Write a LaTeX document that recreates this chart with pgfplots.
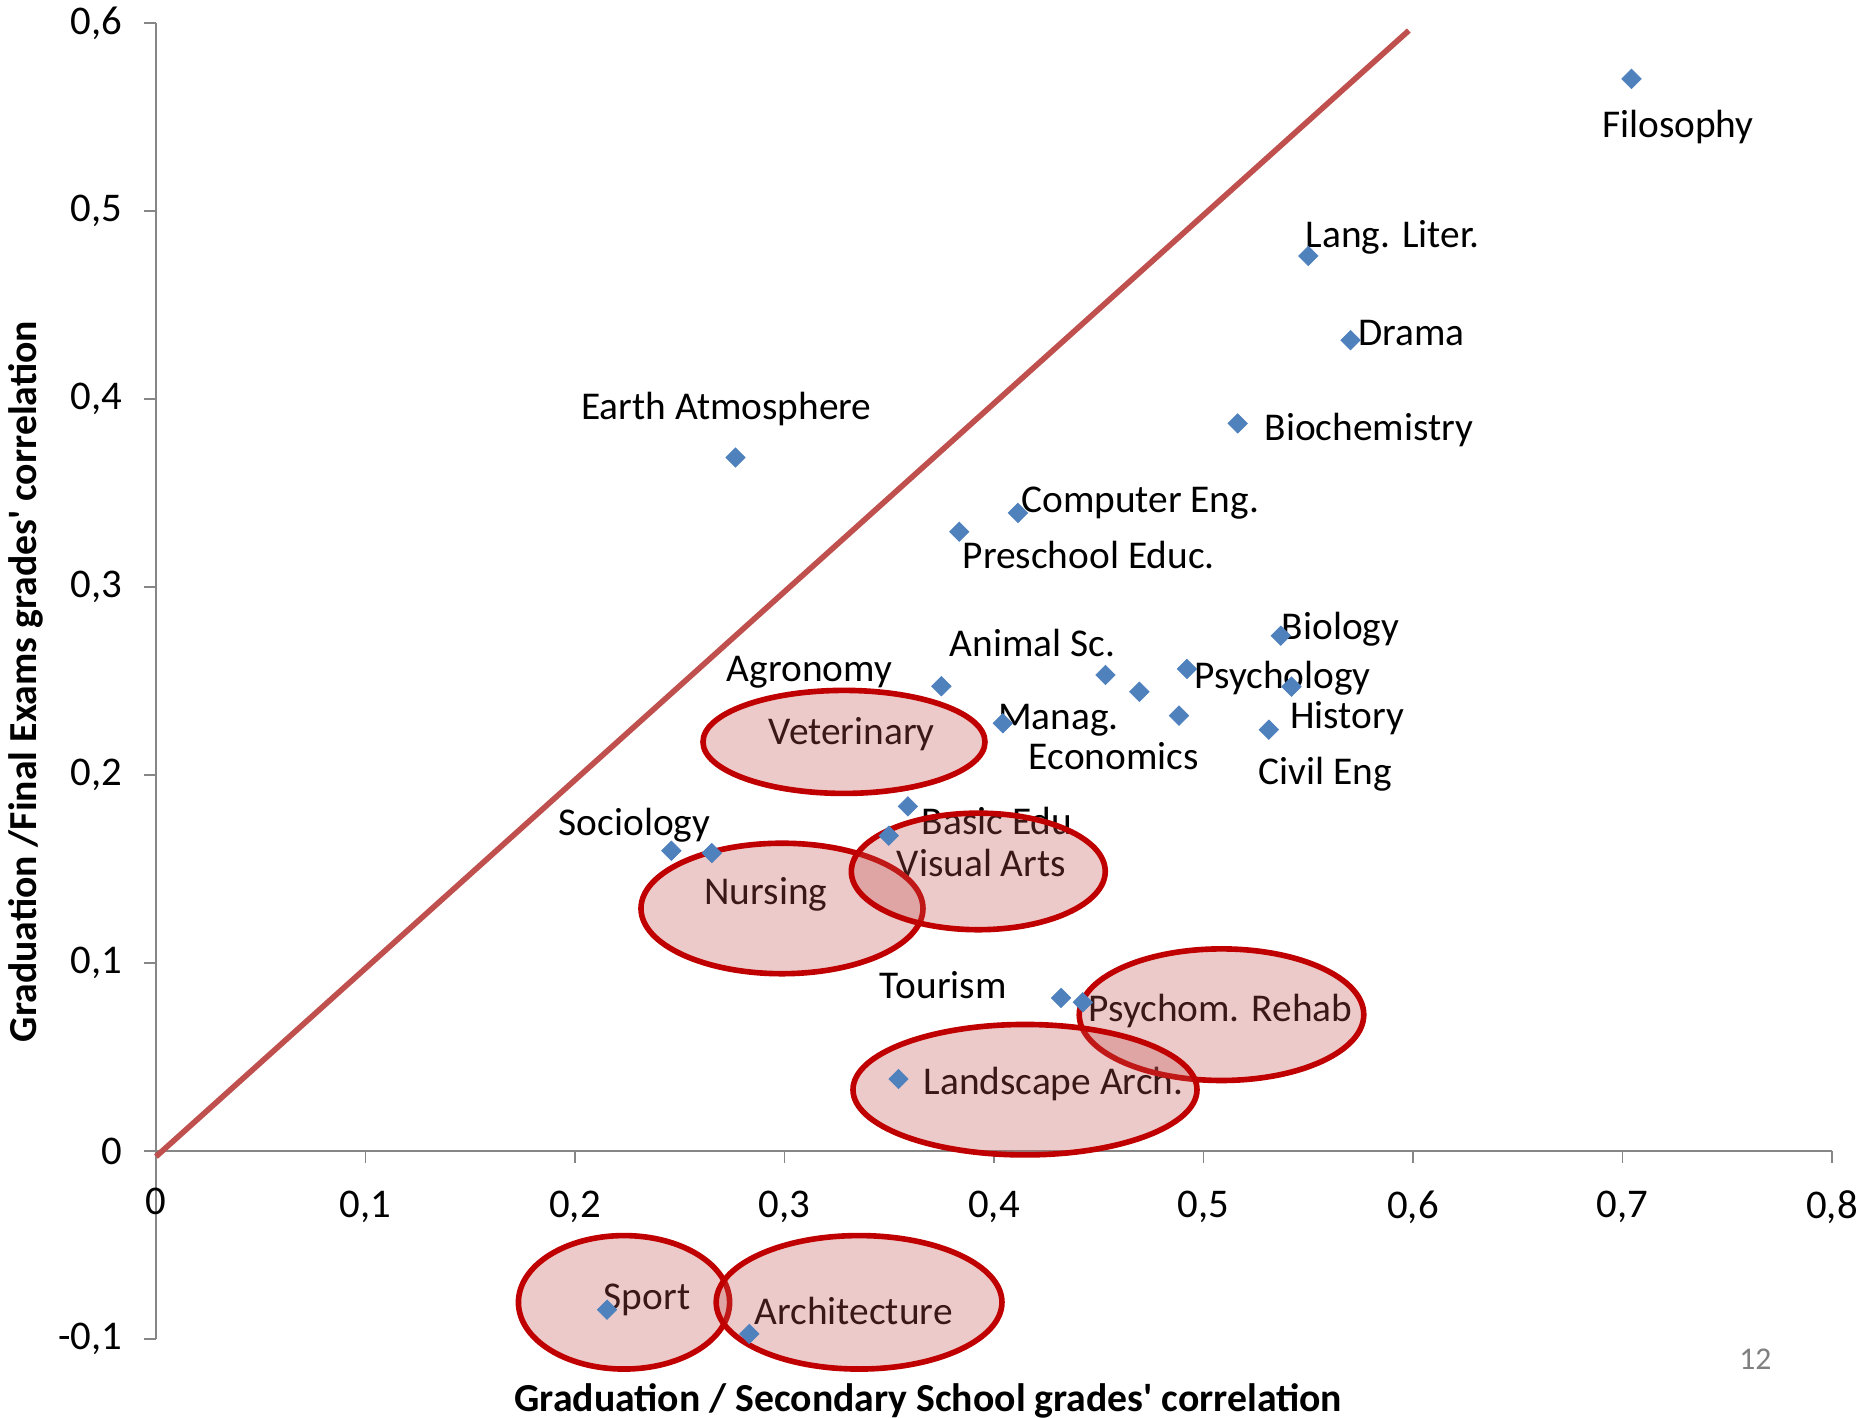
\documentclass[border=0pt]{standalone}
\usepackage{fontspec}
\setmainfont{Carlito}[Ligatures=TeXOff]
\usepackage{pgfplots}
\pgfplotsset{compat=1.18}

\definecolor{ptblue}{HTML}{4F81BD}
\definecolor{diagred}{HTML}{C0504D}
\definecolor{ringred}{HTML}{C00000}
\definecolor{axisgray}{HTML}{868686}

\begin{document}
\begin{tikzpicture}
\begin{axis}[
    at={(1.56cm,0.79cm)}, anchor=south west,
    scale only axis,
    width=16.76cm, height=13.16cm,
    xmin=0, xmax=0.8, ymin=-0.1, ymax=0.6,
    axis x line*=middle, axis y line*=left,
    axis line style={axisgray, line width=0.5pt},
    tick style={axisgray, line width=0.5pt},
    tick align=outside, major tick length=0.12cm,
    xtick={0,0.1,...,0.8}, ytick={-0.1,0,...,0.6},
    /pgf/number format/.cd, use comma, fixed, assume math mode=true,
    /pgfplots/.cd,
    ticklabel style={font=\fontsize{11.6}{13}\selectfont},
    xticklabel style={yshift=-0.155cm},
    yticklabel style={xshift=-0.095cm},
    clip=false,
]
% diagonal reference line
\addplot[diagred, line width=1.6pt] coordinates {(0,-0.003) (0.598,0.596)};

% degree programmes
\addplot[only marks, mark=square*, mark size=1.95pt,
    mark options={rotate=45, fill=ptblue, draw=ptblue, line width=0.2pt}]
    coordinates {
    (0.7043,0.5703) (0.5500,0.4761) (0.5702,0.4313) (0.5163,0.3870)
    (0.2766,0.3689) (0.4114,0.3394) (0.3834,0.3294) (0.5369,0.2741)
    (0.4921,0.2564) (0.4532,0.2532) (0.4694,0.2443) (0.5420,0.2470)
    (0.3749,0.2472) (0.4883,0.2316) (0.4042,0.2275) (0.5312,0.2241)
    (0.3589,0.1833) (0.3498,0.1677) (0.2460,0.1597) (0.2653,0.1585)
    (0.4320,0.0814) (0.4424,0.0791) (0.3544,0.0383) (0.2153,-0.0844)
    (0.2832,-0.0973)
};

\begin{scope}[every node/.style={anchor=center, text height=0.64em, text depth=0pt, inner sep=0pt,
    yshift=-0.03cm, font=\fontsize{11.2}{13}\selectfont}]
\node at (axis cs:0.7265,0.5466) {Filosophy};
\node at (axis cs:0.5904,0.4881) {Lang. Liter.};
\node at (axis cs:0.5992,0.4358) {Drama};
\node at (axis cs:0.5790,0.3853) {Biochemistry};
\node at (axis cs:0.2723,0.3968) {Earth Atmosphere};
\node at (axis cs:0.4698,0.3472) {Computer Eng.};
\node at (axis cs:0.4452,0.3176) {Preschool Educ.};
\node at (axis cs:0.5654,0.2794) {Biology};
\node at (axis cs:0.4184,0.2706) {Animal Sc.};
\node at (axis cs:0.3119,0.2573) {Agronomy};
\node at (axis cs:0.5378,0.2537) {Psychology};
\node at (axis cs:0.5685,0.2324) {History};
\node at (axis cs:0.4308,0.2316) {Manag.};
\node at (axis cs:0.3321,0.2236) {Veterinary};
\node at (axis cs:0.4572,0.2103) {Economics};
\node at (axis cs:0.5580,0.2023) {Civil Eng};
\node at (axis cs:0.2284,0.1755) {Sociology};
\node at (axis cs:0.4014,0.1757) {Basic Edu};
\node at (axis cs:0.3940,0.1535) {Visual Arts};
\node at (axis cs:0.2911,0.1385) {Nursing};
\node at (axis cs:0.3758,0.0888) {Tourism};
\node at (axis cs:0.5081,0.0764) {Psychom. Rehab};
\node at (axis cs:0.4284,0.0374) {Landscape Arch.};
\node at (axis cs:0.2344,-0.0770) {Sport};
\node at (axis cs:0.3330,-0.0849) {Architecture};
\end{scope}

% highlighted programmes
\begin{scope}[draw=ringred, line width=1.6pt, fill=diagred, fill opacity=0.3, draw opacity=1]
\filldraw (axis cs:0.3284,0.2176) ellipse [x radius=0.0673, y radius=0.0274];
\filldraw (axis cs:0.2988,0.1290) ellipse [x radius=0.0673, y radius=0.0347];
\filldraw (axis cs:0.3925,0.1487) ellipse [x radius=0.0606, y radius=0.0310];
\filldraw (axis cs:0.5086,0.0725) ellipse [x radius=0.0679, y radius=0.0350];
\filldraw (axis cs:0.4148,0.0326) ellipse [x radius=0.0821, y radius=0.0347];
\filldraw (axis cs:0.2234,-0.0805) ellipse [x radius=0.0504, y radius=0.0355];
\filldraw (axis cs:0.3356,-0.0805) ellipse [x radius=0.0682, y radius=0.0355];
\end{scope}

% origin tick label of the x axis (dropped by the middle axis line)
\node[anchor=center, text height=0.63em, text depth=0pt, inner sep=0pt,
    font=\fontsize{11.6}{13}\selectfont] at (axis cs:0,0) [yshift=-0.525cm] {0};

\node[anchor=center, text height=0.64em, text depth=0pt, inner sep=0pt,
    font=\fontsize{11.3}{13}\selectfont\bfseries] at (axis cs:0.3687,-0.1328)
    {Graduation / Secondary School grades' correlation};
\node[anchor=center, rotate=90, text height=0.64em, text depth=0pt, inner sep=0pt,
    font=\fontsize{11.3}{13}\selectfont\bfseries] at (axis cs:-0.0625,0.2497)
    {Graduation /Final Exams grades' correlation};
\node[anchor=center, text=gray, font=\fontsize{9}{11}\selectfont] at (axis cs:0.7634,-0.1110) {12};
\end{axis}
\pgfresetboundingbox
\path[use as bounding box] (0,0) rectangle (18.64cm,14.18cm);
\end{tikzpicture}
\end{document}
